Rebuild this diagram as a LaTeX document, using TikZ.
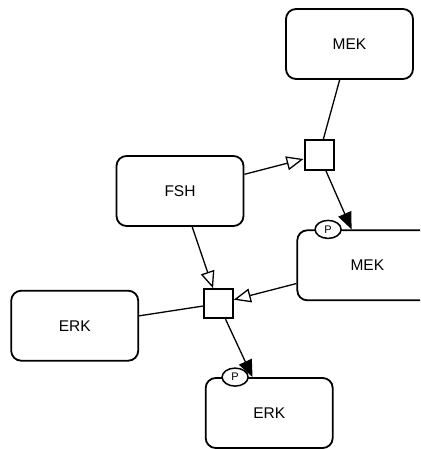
\documentclass[tikz,border=0pt]{standalone}
\usepackage{fontspec}
\setmainfont{Liberation Sans}
\usetikzlibrary{arrows.meta,shapes.geometric}
\tikzset{
  entity/.style={draw, line width=1.8pt, rounded corners=10pt, minimum width=127pt,
    minimum height=70pt, font=\fontsize{15.5}{18}\selectfont},
  process/.style={draw, line width=2pt, minimum size=29pt, inner sep=0pt},
  statevar/.style={draw, fill=white, ellipse, line width=1.5pt, minimum width=26pt,
    minimum height=18pt, inner sep=0pt, font=\fontsize{11}{12}\selectfont},
  link/.style={line width=1.3pt},
  stim/.style={link, -{Triangle[open, length=17pt, width=14pt]}},
  prod/.style={link, -{Triangle[length=17pt, width=14pt]}}
}
\begin{document}
\begin{tikzpicture}[x=1pt, y=-1pt]
    \useasboundingbox (0,0) rectangle (420,449);
    \clip (0,0) rectangle (420,449);
    \node[entity] (mek) at (349.5,44) {MEK};
    \node[entity] (fsh) at (180,191) {FSH};
    \node[entity, minimum width=140pt] (mekp) at (367.3,265.3) {MEK\hspace{9pt}};
    \node[entity] (erk) at (74.7,325.7) {ERK};
    \node[entity] (erkp) at (269.2,413) {ERK};
    \node[process] (pa) at (319,155) {};
    \node[process] (pb) at (218.3,303.7) {};
    \draw[link] (mek) -- (pa);
    \draw[stim] (fsh) -- (pa);
    \draw[prod] (pa) -- (mekp);
    \draw[link] (erk) -- (pb);
    \draw[stim] (fsh) -- (pb);
    \draw[stim] (mekp) -- (pb);
    \draw[prod] (pb) -- (erkp);
    \node[statevar] (mekpp) at ([xshift=31.7pt]mekp.north west) {P};
    \node[statevar] (erkpp) at ([xshift=30.3pt]erkp.north west) {P};
\end{tikzpicture}
\end{document}
